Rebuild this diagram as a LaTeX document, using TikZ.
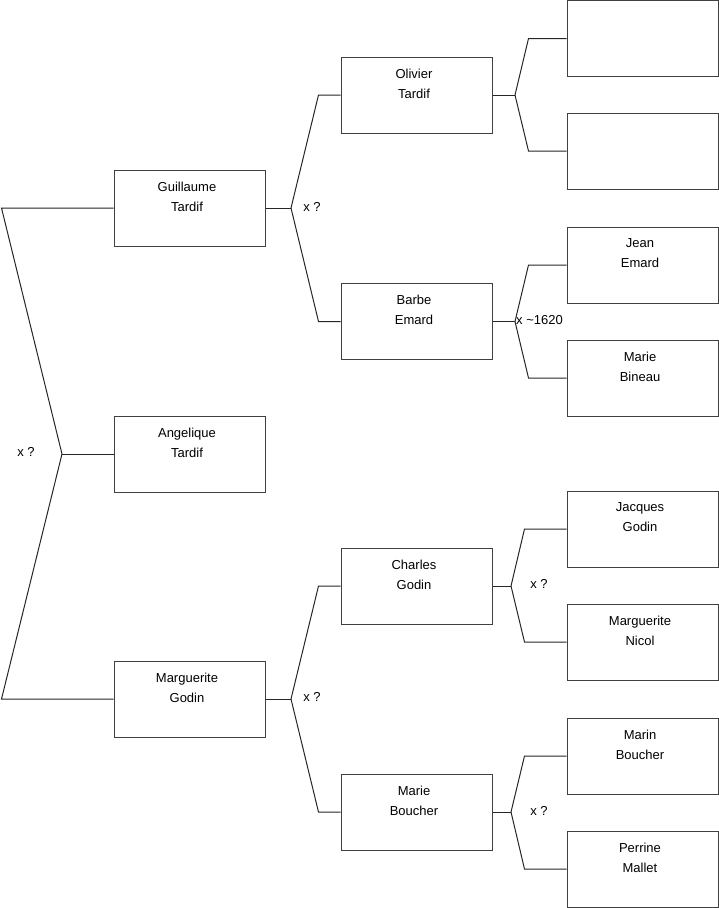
\documentclass[tikz,border=0pt]{standalone}
\usepackage{fontspec}
\setmainfont{Liberation Sans}
\begin{document}
\begin{tikzpicture}[x=1pt,y=-1pt,
  every node/.style={font=\fontsize{13}{20}\selectfont},
  person/.style={draw=black!75, line width=1pt, minimum width=151pt, minimum height=76pt, inner sep=0pt, fill=white},
  lbl/.style={inner sep=0pt},
  conn/.style={draw=black!85, line width=1pt},
]
\useasboundingbox (0,0) rectangle (719,908);
\newcommand{\person}[4]{%
  \node[person] (#1) at (#2,#3) {};
  \node[anchor=north, align=center, inner sep=0pt, yshift=-12pt, xshift=-2.5pt] (#1t) at (#1.north) {#4};
}
% column 1
\person{g}{189.5}{208}{Guillaume\\Tardif}
\person{a}{189.5}{454}{Angelique\\Tardif}
\person{m}{189.5}{699}{Marguerite\\Godin}
% column 2
\person{o}{416.5}{95}{Olivier\\Tardif}
\person{b}{416.5}{321.5}{Barbe\\Emard}
\person{c}{416.5}{586}{Charles\\Godin}
\person{mb}{416.5}{812}{Marie\\Boucher}
% column 3
\node[person] (oa) at (642.5,38.5) {};
\node[person] (ob) at (642.5,151) {};
\person{je}{642.5}{265}{Jean\\Emard}
\person{mbi}{642.5}{378}{Marie\\Bineau}
\person{jg}{642.5}{529}{Jacques\\Godin}
\person{mn}{642.5}{642}{Marguerite\\Nicol}
\person{mab}{642.5}{756}{Marin\\Boucher}
\person{pm}{642.5}{869}{Perrine\\Mallet}

% root fork
\coordinate (root) at (62,454);
\draw[conn] (g.west) -- ([xshift=-112pt]g.west) -- (root);
\draw[conn] (root) -- (a.west);
\draw[conn] (root) -- ([xshift=-112pt]m.west) -- (m.west);
\node[lbl] (l0) at (26,452) {x ?};

% Guillaume fork
\coordinate (fg) at (291,208);
\draw[conn] (g.east) -- (fg);
\draw[conn] (fg) -- ([xshift=-22pt]o.west) -- (o.west);
\draw[conn] (fg) -- ([xshift=-22pt]b.west) -- (b.west);
\node[lbl] (l1) at (312,207) {x ?};

% Marguerite fork
\coordinate (fm) at (291,699);
\draw[conn] (m.east) -- (fm);
\draw[conn] (fm) -- ([xshift=-22pt]c.west) -- (c.west);
\draw[conn] (fm) -- ([xshift=-22pt]mb.west) -- (mb.west);
\node[lbl] (l2) at (312,697) {x ?};

% Olivier fork
\coordinate (fo) at (515,95);
\draw[conn] (o.east) -- (fo);
\draw[conn] (fo) -- ([xshift=-38pt]oa.west) -- (oa.west);
\draw[conn] (fo) -- ([xshift=-38pt]ob.west) -- (ob.west);

% Barbe fork
\coordinate (fb) at (515,321.5);
\draw[conn] (b.east) -- (fb);
\draw[conn] (fb) -- ([xshift=-38pt]je.west) -- (je.west);
\draw[conn] (fb) -- ([xshift=-38pt]mbi.west) -- (mbi.west);
\node[lbl, anchor=west] (l3) at (516,320.5) {x \textasciitilde1620};

% Charles fork
\coordinate (fc) at (511,586);
\draw[conn] (c.east) -- (fc);
\draw[conn] (fc) -- ([xshift=-42pt]jg.west) -- (jg.west);
\draw[conn] (fc) -- ([xshift=-42pt]mn.west) -- (mn.west);
\node[lbl] (l4) at (539,584) {x ?};

% Marie Boucher fork
\coordinate (fmb) at (511,812);
\draw[conn] (mb.east) -- (fmb);
\draw[conn] (fmb) -- ([xshift=-42pt]mab.west) -- (mab.west);
\draw[conn] (fmb) -- ([xshift=-42pt]pm.west) -- (pm.west);
\node[lbl] (l5) at (539,811) {x ?};
\end{tikzpicture}
\end{document}
